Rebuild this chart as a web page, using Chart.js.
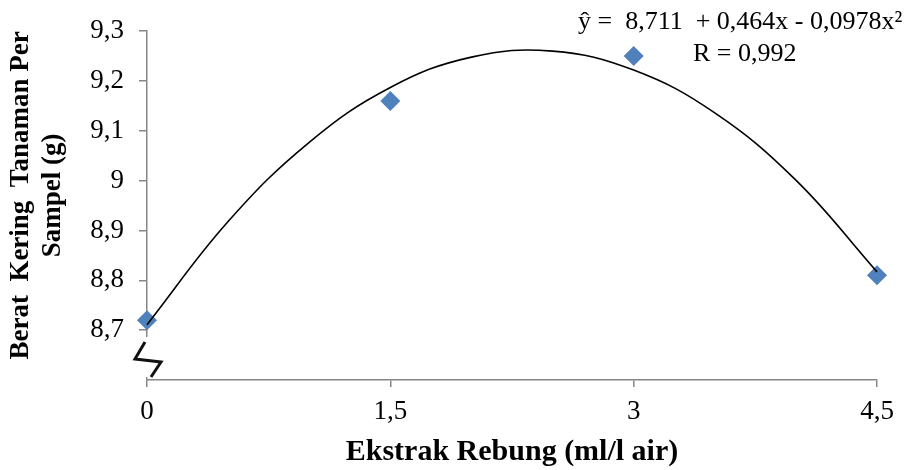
<!DOCTYPE html>
<html>
<head>
<meta charset="utf-8">
<script src="https://cdn.jsdelivr.net/npm/chart.js@4"></script>
<style>
  html, body { margin: 0; padding: 0; background: #fff; }
  #wrap { width: 913px; height: 470px; }
</style>
</head>
<body>
<div id="wrap"><canvas id="chart"></canvas></div>
<script>
// Observed points (Ekstrak Rebung vs Berat Kering)
const doseX = [0, 1.5, 3, 4.5]
const weightY = [8.72, 9.16, 9.25, 8.81]

// Trend curve
const curveX = [0, 0.5, 1, 1.5, 2, 2.5, 3, 3.5, 4, 4.5]
const curveY = [8.711, 8.918, 9.077, 9.187, 9.248, 9.260, 9.222, 9.136, 9.001, 8.817]

const xTickLabels = { 0: "0", 1.5: "1,5", 3: "3", 4.5: "4,5" }
const yTickLabels = { 8.6: "", 8.7: "8,7", 8.8: "8,8", 8.9: "8,9", 9: "9", 9.1: "9,1", 9.2: "9,2", 9.3: "9,3" }

const equationText = "ŷ =  8,711  + 0,464x - 0,0978x²"
const rText = "R = 0,992"

const serif = "'Liberation Serif', 'Times New Roman', serif"
const axisGray = "#868686"

// axis break + equation text
const extras = {
  id: "extras",
  afterDraw(chart) {
    const ctx = chart.ctx
    const x0 = chart.scales.x.getPixelForValue(0)
    ctx.save()
    // gap in the y axis
    ctx.fillStyle = "#fff"
    ctx.fillRect(x0 - 3, 337, 6, 40)
    // zigzag break mark
    ctx.strokeStyle = "#111"
    ctx.lineWidth = 3
    ctx.beginPath()
    ctx.moveTo(145, 342)
    ctx.lineTo(135, 359)
    ctx.lineTo(161, 362)
    ctx.lineTo(151, 377)
    ctx.stroke()

    ctx.fillStyle = "#000"
    ctx.font = "26px " + serif
    ctx.textBaseline = "alphabetic"
    ctx.textAlign = "left"
    ctx.fillText(equationText, 578, 29)
    ctx.fillText(rText, 693, 61)
    ctx.restore()
  }
}

new Chart(document.getElementById("chart"), {
  type: "scatter",
  data: {
    datasets: [
      {
        label: "trend",
        data: curveX.map((x, i) => ({ x: x, y: curveY[i] })),
        showLine: true,
        borderColor: "#000",
        borderWidth: 1.6,
        pointRadius: 0,
        tension: 0.4,
        fill: false,
        clip: false
      },
      {
        label: "data",
        data: doseX.map((x, i) => ({ x: x, y: weightY[i] })),
        pointStyle: "rectRot",
        pointRadius: 10,
        pointBackgroundColor: "#4F81BD",
        pointBorderColor: "#4F81BD",
        pointBorderWidth: 0,
        clip: false
      }
    ]
  },
  options: {
    responsive: true,
    maintainAspectRatio: false,
    animation: false,
    layout: { padding: { top: 29, right: 36, left: 0, bottom: 0 } },
    plugins: {
      legend: { display: false },
      tooltip: { enabled: false }
    },
    scales: {
      x: {
        type: "linear",
        min: 0,
        max: 4.5,
        afterBuildTicks: (scale) => {
          scale.ticks = Object.keys(xTickLabels).map(v => ({ value: Number(v) }))
        },
        afterFit: (scale) => { scale.height = 90 },
        border: { display: true, color: axisGray, width: 1.5 },
        grid: { display: true, drawOnChartArea: false, tickLength: 7, color: axisGray, lineWidth: 1.5 },
        ticks: {
          color: "#000",
          padding: 9,
          font: { family: serif, size: 27 },
          callback: (v) => xTickLabels[v]
        },
        title: {
          display: true,
          text: "Ekstrak Rebung (ml/l air)",
          color: "#000",
          padding: { top: 0, bottom: 0 },
          font: { family: serif, size: 30, weight: "bold" }
        }
      },
      y: {
        min: 8.6,
        max: 9.3,
        afterBuildTicks: (scale) => {
          scale.ticks = Object.keys(yTickLabels).map(v => ({ value: Number(v) }))
        },
        afterFit: (scale) => { scale.width = 147 },
        border: { display: true, color: axisGray, width: 1.5 },
        grid: {
          display: true,
          drawOnChartArea: false,
          tickLength: 8,
          lineWidth: 1.5,
          color: axisGray,
          tickColor: (c) => (c.tick && Math.abs(c.tick.value - 8.6) < 1e-6 ? "rgba(0,0,0,0)" : axisGray)
        },
        ticks: {
          color: "#000",
          padding: 15,
          font: { family: serif, size: 27 },
          callback: (v) => yTickLabels[Math.round(v * 10) / 10]
        },
        title: {
          display: true,
          text: ["   Berat  Kering  Tanaman Per", "   Sampel (g)"],
          color: "#000",
          padding: { top: 6, bottom: 0 },
          font: { family: serif, size: 27, weight: "bold", lineHeight: 1.15 }
        }
      }
    }
  },
  plugins: [extras]
})
</script>
</body>
</html>
